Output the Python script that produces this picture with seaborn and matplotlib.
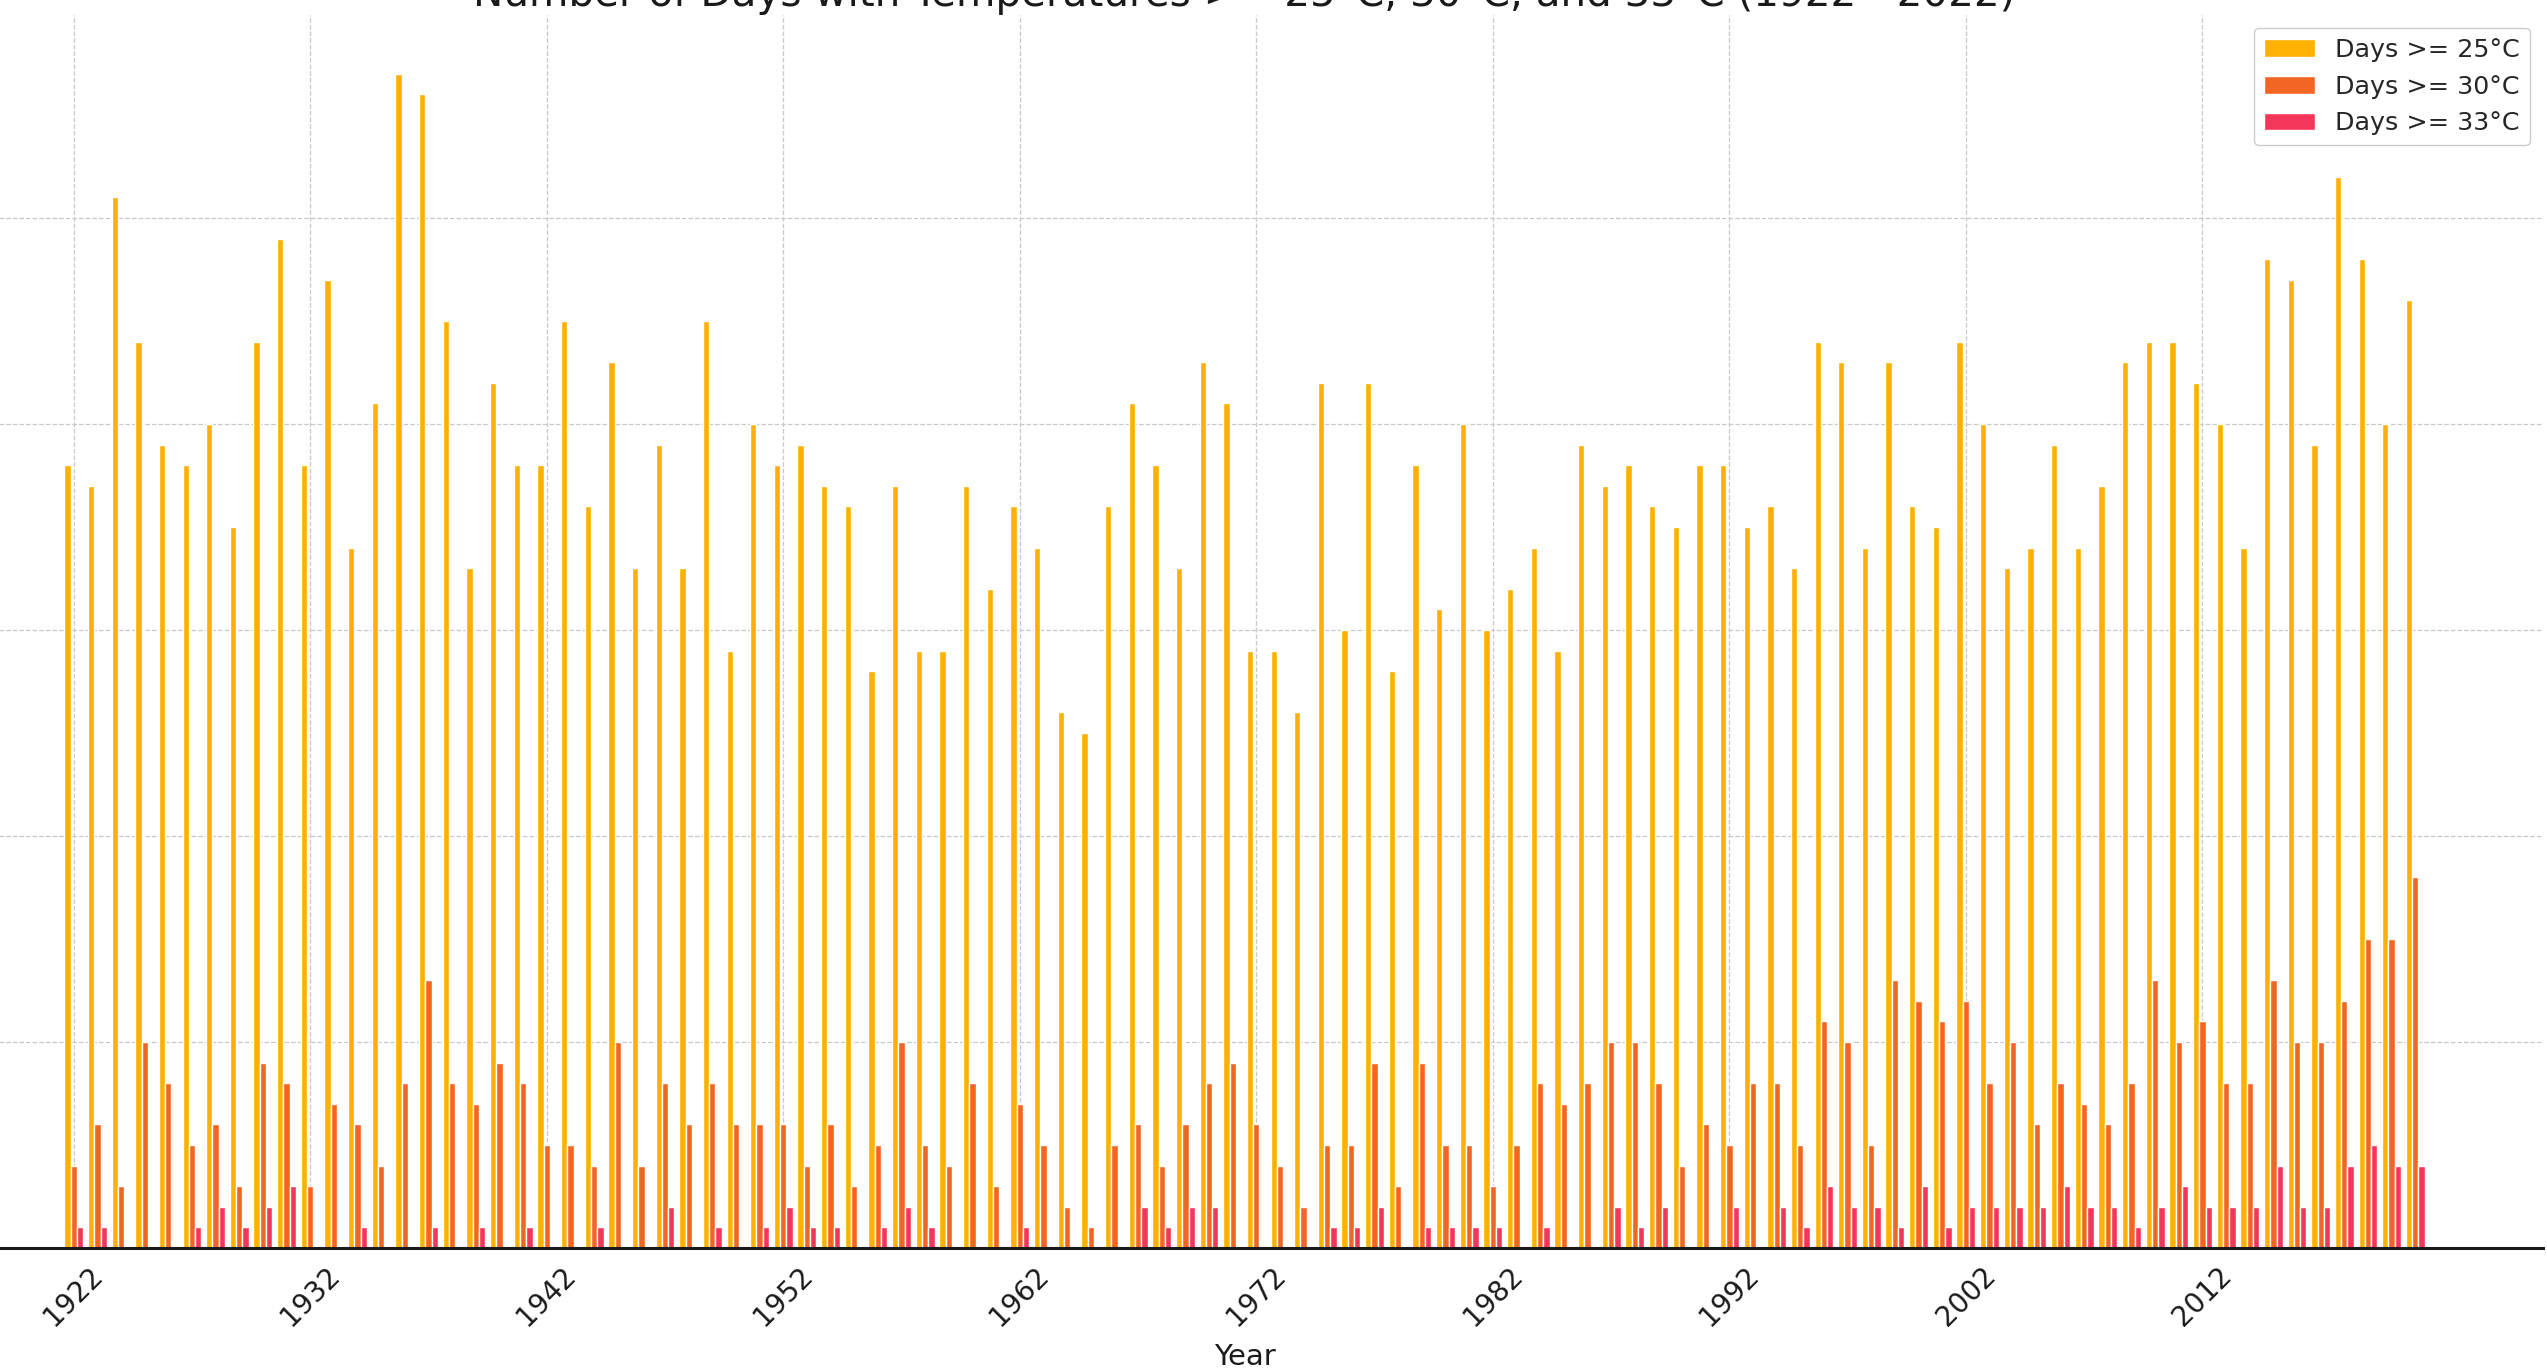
import matplotlib
matplotlib.use("Agg")
import matplotlib.pyplot as plt
import pandas as pd
import seaborn as sns

# ---------------- data ----------------
years = list(range(1922, 2022))

days_25 = [38, 37, 51, 44, 39, 38, 40, 35, 44, 49,
           38, 47, 34, 41, 57, 56, 45, 33, 42, 38,
           38, 45, 36, 43, 33, 39, 33, 45, 29, 40,
           38, 39, 37, 36, 28, 37, 29, 29, 37, 32,
           36, 34, 26, 25, 36, 41, 38, 33, 43, 41,
           29, 29, 26, 42, 30, 42, 28, 38, 31, 40,
           30, 32, 34, 29, 39, 37, 38, 36, 35, 38,
           38, 35, 36, 33, 44, 43, 34, 43, 36, 35,
           44, 40, 33, 34, 39, 34, 37, 43, 44, 44,
           42, 40, 34, 48, 47, 39, 52, 48, 40, 46]

days_30 = [4, 6, 3, 10, 8, 5, 6, 3, 9, 8,
           3, 7, 6, 4, 8, 13, 8, 7, 9, 8,
           5, 5, 4, 10, 4, 8, 6, 8, 6, 6,
           6, 4, 6, 3, 5, 10, 5, 4, 8, 3,
           7, 5, 2, 1, 5, 6, 4, 6, 8, 9,
           6, 4, 2, 5, 5, 9, 3, 9, 5, 5,
           3, 5, 8, 7, 8, 10, 10, 8, 4, 6,
           5, 8, 8, 5, 11, 10, 5, 13, 12, 11,
           12, 8, 10, 6, 8, 7, 6, 8, 13, 10,
           11, 8, 8, 13, 10, 10, 12, 15, 15, 18]

days_33 = [1, 1, 0, 0, 0, 1, 2, 1, 2, 3,
           0, 0, 1, 0, 0, 1, 0, 1, 0, 1,
           0, 0, 1, 0, 0, 2, 0, 1, 0, 1,
           2, 1, 1, 0, 1, 2, 1, 0, 0, 0,
           1, 0, 0, 0, 0, 2, 1, 2, 2, 0,
           0, 0, 0, 1, 1, 2, 0, 1, 1, 1,
           1, 0, 1, 0, 0, 2, 1, 2, 0, 0,
           2, 0, 2, 1, 3, 2, 2, 1, 3, 1,
           2, 2, 2, 2, 3, 2, 2, 1, 2, 3,
           2, 2, 2, 4, 2, 2, 4, 5, 4, 4]

series_labels = ["Days >= 25°C", "Days >= 30°C", "Days >= 33°C"]
series_colors = ["#FFB000", "#F26522", "#F4365A"]
tick_years = list(range(1922, 2022, 10))
title_text = "Number of Days with Temperatures >= 25°C, 30°C, and 33°C (1922 - 2022)"
x_label = "Year"

df = pd.DataFrame({
    "Year": years,
    series_labels[0]: days_25,
    series_labels[1]: days_30,
    series_labels[2]: days_33,
}).melt(id_vars="Year", var_name="Threshold", value_name="Days")

# ---------------- style ----------------
sns.set_style("white")
plt.rcParams["font.family"] = ["DejaVu Sans"]

W, H, DPI = 2547, 1369, 100
fig = plt.figure(figsize=(W / DPI, H / DPI), dpi=DPI)
fig.patch.set_facecolor("white")

ax_left_px, ax_right_px = -54, 2543
ax_bottom_px, ax_top_px = 121, 15
ax = fig.add_axes([ax_left_px / W, ax_bottom_px / H,
                   (ax_right_px - ax_left_px) / W,
                   (H - ax_top_px - ax_bottom_px) / H])

sns.barplot(data=df, x="Year", y="Days", hue="Threshold",
            hue_order=series_labels, palette=series_colors,
            saturation=1, width=0.8, native_scale=True,
            errorbar=None, ax=ax)

ax.set_xlim(1916.6, 2026.4)
ax.set_ylim(0, 59.85)
ax.set_yticks(range(0, 60, 10))
ax.set_xticks(tick_years)
ax.set_xticklabels([str(y) for y in tick_years], rotation=45, ha="center",
                   fontsize=20, color="#1a1a1a")
ax.tick_params(axis="x", direction="in", length=5.5, width=1.5,
               color="black", pad=10, bottom=True)
ax.tick_params(axis="y", left=False, labelleft=False)

ax.grid(True, linestyle="--", color="#c8c8c8", linewidth=0.9)
ax.set_axisbelow(True)

for s in ["top", "right", "left"]:
    ax.spines[s].set_visible(False)
ax.spines["bottom"].set_color("#1a1a1a")
ax.spines["bottom"].set_linewidth(2.2)

ax.set_xlabel(x_label, fontsize=21, color="#1a1a1a", labelpad=8)
ax.set_ylabel("")

handles, labels = ax.get_legend_handles_labels()
leg = ax.legend(handles, labels, loc="upper right", fontsize=18.3,
                frameon=True, fancybox=True, edgecolor="#cccccc",
                framealpha=1.0)
for t in leg.get_texts():
    t.set_color("#262626")

fig.text(1244 / W, 1 - 6 / H, title_text, ha="center", va="baseline",
         fontsize=29.2, color="#1a1a1a")

fig.savefig("out.png", dpi=DPI, facecolor="white")
